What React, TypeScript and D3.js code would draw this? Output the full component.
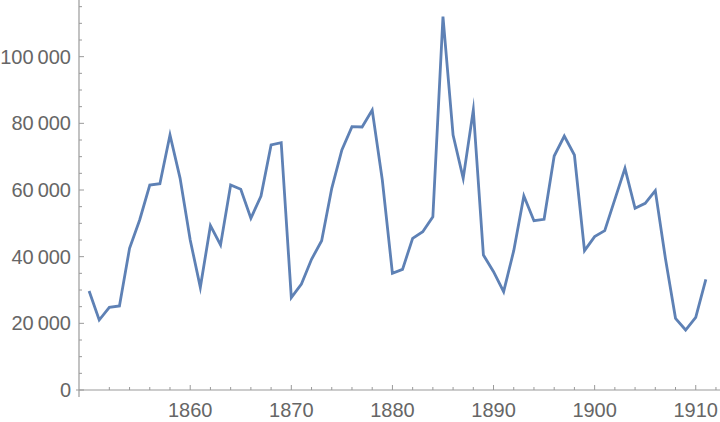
import React from 'react';
import * as d3 from 'd3';

const years = d3.range(1850, 1912);
const values = [
  29700, 21000, 24800, 25200, 42500, 51000, 61500, 61900, 76500, 63500,
  45000, 30800, 49300, 43500, 61500, 60200, 51500, 58200, 73500, 74200,
  27700, 31800, 39200, 44800, 60500, 72000, 79000, 78900, 84000, 63000,
  35000, 36200, 45500, 47500, 52000, 112000, 76500, 63500, 84000, 40500,
  35500, 29500, 41800, 58200, 50800, 51200, 70200, 76200, 70500, 41800,
  46000, 47800, 57200, 66500, 54500, 56000, 59800, 39500, 21500, 18000,
  21800, 33200,
];
const xMajor = [1860, 1870, 1880, 1890, 1900, 1910];
const yMajor = [0, 20000, 40000, 60000, 80000, 100000];

const W = 720;
const H = 422;
const axisColor = '#9a9a9a';
const labelColor = '#666666';
const font = '"Liberation Sans", Arial, sans-serif';

const fmt = (v: number) => d3.format(',')(v).replace(/,/g, '\u2009');

export default function App() {
  const x = d3.scaleLinear().domain([1849, 1912.4]).range([79, 720]);
  const y = d3.scaleLinear().domain([0, 117000]).range([390, 0]);

  const line = d3.line<number>()
    .x((_, i) => x(years[i]))
    .y(d => y(d));

  const xMinor = d3.range(1850, 1913, 2).filter(v => v % 10 !== 0);
  const yMinor = d3.range(0, 117000, 5000).filter(v => v % 20000 !== 0);
  const x0 = x(1849);
  const y0 = y(0);

  return (
    <svg width={W} height={H} style={{ position: 'absolute', left: 0, top: 0 }}
      fontFamily={font}>
      <rect width={W} height={H} fill="white" />
      {/* axes */}
      <line x1={76} x2={W} y1={y0} y2={y0} stroke={axisColor} strokeWidth={1.2} />
      <line x1={x0} x2={x0} y1={0} y2={397} stroke={axisColor} strokeWidth={1.2} />
      {xMinor.map(v => (
        <line key={'xm' + v} x1={x(v)} x2={x(v)} y1={y0} y2={y0 - 3}
          stroke={axisColor} strokeWidth={1} />
      ))}
      {xMajor.map(v => (
        <g key={'x' + v}>
          <line x1={x(v)} x2={x(v)} y1={y0} y2={y0 - 5} stroke={axisColor} strokeWidth={1} />
          <text x={x(v)} y={417} textAnchor="middle" fontSize={20} fill={labelColor}>{v}</text>
        </g>
      ))}
      {yMinor.map(v => (
        <line key={'ym' + v} x1={x0} x2={x0 + 3} y1={y(v)} y2={y(v)}
          stroke={axisColor} strokeWidth={1} />
      ))}
      {yMajor.map(v => (
        <g key={'y' + v}>
          <line x1={x0} x2={x0 + 5} y1={y(v)} y2={y(v)} stroke={axisColor} strokeWidth={1} />
          <text x={71} y={y(v)} dy="0.35em" textAnchor="end" fontSize={20} fill={labelColor}>
            {fmt(v)}
          </text>
        </g>
      ))}
      <path d={line(values) || ''} fill="none" stroke="#5e81b5" strokeWidth={2.8}
        strokeLinejoin="miter" strokeMiterlimit={10} />
    </svg>
  );
}
